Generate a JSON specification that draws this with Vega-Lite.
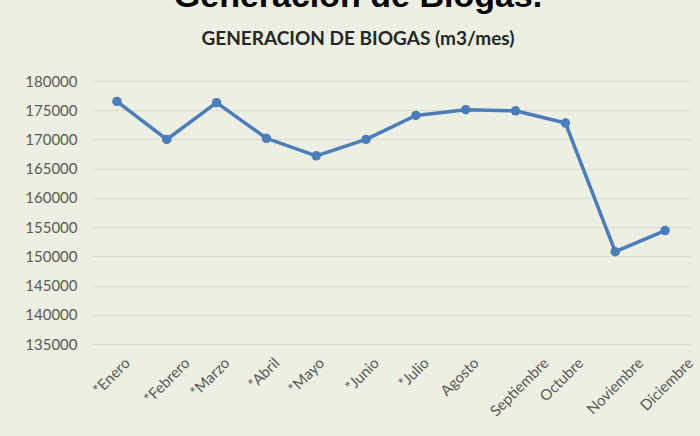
{
  "$schema": "https://vega.github.io/schema/vega-lite/v6.json",
  "width": 598,
  "height": 263,
  "autosize": {"type": "none"},
  "padding": {"left": 92, "top": 81, "right": 10, "bottom": 92},
  "background": "#ecefe1",
  "title": {
    "text": "Generación de Biogás.",
    "subtitle": "GENERACION DE BIOGAS (m3/mes)",
    "font": "Liberation Sans",
    "fontSize": 34,
    "fontWeight": "bold",
    "color": "#000000",
    "subtitleFont": "Lato",
    "subtitleFontSize": 19,
    "subtitleFontWeight": "bold",
    "subtitleColor": "#262626",
    "subtitlePadding": 16,
    "offset": 25,
    "anchor": "middle",
    "frame": "group",
    "dx": -33
  },
  "data": {
    "values": [
      {"mes": "*Enero", "biogas": 176500},
      {"mes": "*Febrero", "biogas": 170000},
      {"mes": "*Marzo", "biogas": 176300},
      {"mes": "*Abril", "biogas": 170200},
      {"mes": "*Mayo", "biogas": 167200},
      {"mes": "*Junio", "biogas": 170000},
      {"mes": "*Julio", "biogas": 174100},
      {"mes": "Agosto", "biogas": 175100},
      {"mes": "Septiembre", "biogas": 174900},
      {"mes": "Octubre", "biogas": 172800},
      {"mes": "Noviembre", "biogas": 150800},
      {"mes": "Diciembre", "biogas": 154400}
    ]
  },
  "mark": {
    "type": "line",
    "color": "#4a7ebb",
    "strokeWidth": 3.5,
    "point": {"filled": true, "size": 90, "color": "#4a7ebb", "opacity": 1}
  },
  "encoding": {
    "x": {
      "field": "mes",
      "type": "nominal",
      "sort": null,
      "scale": {"type": "point", "padding": 0.5},
      "axis": {
        "title": null,
        "labelAngle": -45,
        "labelAlign": "right",
        "labelBaseline": "middle",
        "labelPadding": 16,
        "labelOffset": {"expr": "length(datum.label) * 5 - 20"},
        "ticks": false,
        "domain": false,
        "grid": false,
        "labelFont": "Lato",
        "labelFontSize": 15,
        "labelColor": "#595959",
        "labelOverlap": false
      }
    },
    "y": {
      "field": "biogas",
      "type": "quantitative",
      "scale": {"domain": [135000, 180000], "nice": false, "zero": false},
      "axis": {
        "title": null,
        "values": [135000, 140000, 145000, 150000, 155000, 160000, 165000, 170000, 175000, 180000],
        "format": "d",
        "ticks": false,
        "domain": false,
        "labelPadding": 15,
        "labelFont": "Lato",
        "labelFontSize": 15,
        "labelColor": "#595959",
        "gridColor": "#d9dccb",
        "gridWidth": 1
      }
    }
  },
  "config": {"view": {"stroke": null}}
}
